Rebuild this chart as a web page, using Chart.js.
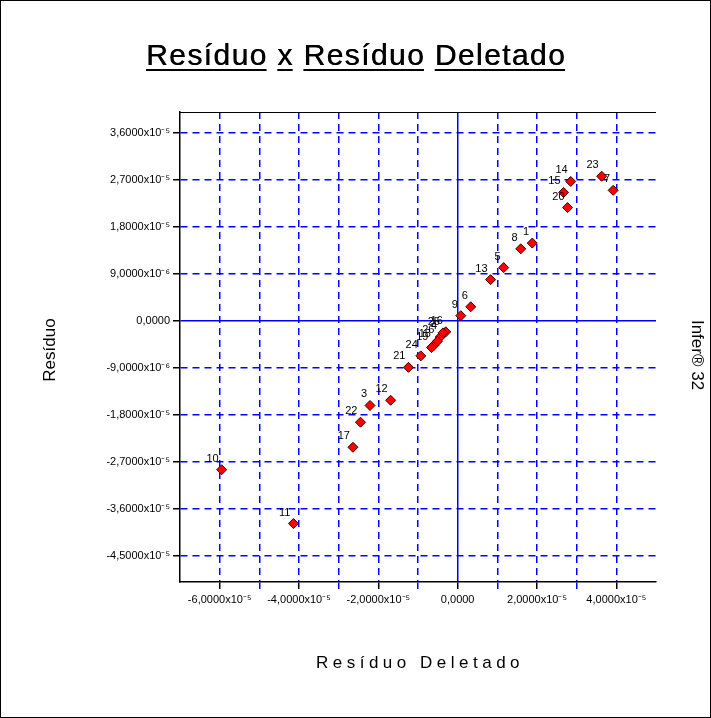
<!DOCTYPE html>
<html>
<head>
<meta charset="utf-8">
<script src="https://cdn.jsdelivr.net/npm/chart.js@4"></script>
<style>
html, body { margin: 0; padding: 0; background: #fff; }
canvas { display: block; }
</style>
</head>
<body>
<canvas id="chart" width="711" height="718"></canvas>
<script>
// dados
const pointLabels = ['1', '3', '4', '5', '6', '7', '8', '9', '10', '11', '12', '13', '14',
    '15', '16', '17', '18', '19', '20', '21', '22', '23', '24', '25', '26'];
const residuoDeletado = [1.88e-5, -2.21e-5, -0.44e-5, 1.16e-5, 0.33e-5, 3.92e-5, 1.59e-5, 0.08e-5,
    -5.95e-5, -4.14e-5, -1.69e-5, 0.83e-5, 2.85e-5, 2.67e-5, -0.30e-5, -2.64e-5, -0.60e-5,
    -0.66e-5, 2.77e-5, -1.24e-5, -2.45e-5, 3.63e-5, -0.93e-5, -0.37e-5, -0.51e-5];
const residuo = [1.49e-5, -1.62e-5, -3.1e-6, 1.02e-5, 2.7e-6, 2.50e-5, 1.38e-5, 1.0e-6,
    -2.85e-5, -3.88e-5, -1.52e-5, 7.9e-6, 2.67e-5, 2.46e-5, -2.1e-6, -2.42e-5, -4.7e-6,
    -5.1e-6, 2.17e-5, -8.9e-6, -1.94e-5, 2.77e-5, -6.7e-6, -2.3e-6, -3.9e-6];

// ticks
const xTicks = [-6e-5, -5e-5, -4e-5, -3e-5, -2e-5, -1e-5, 0, 1e-5, 2e-5, 3e-5, 4e-5];
const xTickLabels = ['-6,0000x10⁻⁵', '', '-4,0000x10⁻⁵', '', '-2,0000x10⁻⁵', '',
    '0,0000', '', '2,0000x10⁻⁵', '', '4,0000x10⁻⁵'];
const yTicks = [-4.5e-5, -3.6e-5, -2.7e-5, -1.8e-5, -9e-6, 0, 9e-6, 1.8e-5, 2.7e-5, 3.6e-5];
const yTickLabels = ['-4,5000x10⁻⁵', '-3,6000x10⁻⁵', '-2,7000x10⁻⁵', '-1,8000x10⁻⁵',
    '-9,0000x10⁻⁶', '0,0000', '9,0000x10⁻⁶', '1,8000x10⁻⁵', '2,7000x10⁻⁵', '3,6000x10⁻⁵'];

const FONT = '"Liberation Sans", Arial, sans-serif';
const BLUE = '#0000ff';

const points = residuoDeletado.map((x, i) => ({ x: x, y: residuo[i] }));

// textos, moldura e rótulos dos pontos
const textPlugin = {
    id: 'textos',
    beforeDraw(chart) {
        const ctx = chart.ctx;
        ctx.save();
        ctx.fillStyle = '#fff';
        ctx.fillRect(0, 0, chart.width, chart.height);
        ctx.restore();
    },
    afterDraw(chart) {
        const ctx = chart.ctx;
        const area = chart.chartArea;
        ctx.save();

        // moldura
        ctx.strokeStyle = '#000';
        ctx.lineWidth = 1;
        ctx.strokeRect(0.5, 0.5, chart.width - 1, chart.height - 1);

        // linha de cima da área
        ctx.beginPath();
        ctx.moveTo(area.left, area.top + 0.5);
        ctx.lineTo(area.right, area.top + 0.5);
        ctx.stroke();

        // título sublinhado palavra a palavra
        ctx.fillStyle = '#000';
        ctx.font = '30px ' + FONT;
        ctx.textBaseline = 'alphabetic';
        ctx.textAlign = 'left';
        ctx.letterSpacing = '1.4px';
        const words = 'Resíduo x Resíduo Deletado'.split(' ');
        const spaceW = ctx.measureText(' ').width;
        const total = ctx.measureText(words.join(' ')).width;
        let tx = 356 - total / 2;
        words.forEach(w => {
            const ww = ctx.measureText(w).width;
            ctx.fillText(w, tx, 65);
            ctx.fillText(w, tx + 0.5, 65);
            ctx.fillRect(tx, 69, ww - 1, 2);
            tx += ww + spaceW;
        });

        // títulos dos eixos
        ctx.font = '17px ' + FONT;
        ctx.textAlign = 'center';
        ctx.textBaseline = 'middle';
        ctx.letterSpacing = '4.5px';
        ctx.fillText('Resíduo Deletado', (area.left + area.right) / 2 + 2, 663);
        ctx.letterSpacing = '0px';

        ctx.save();
        ctx.translate(50, (area.top + area.bottom) / 2 + 3);
        ctx.rotate(-Math.PI / 2);
        ctx.fillText('Resíduo', 0, 0);
        ctx.restore();

        ctx.save();
        ctx.translate(697, 355);
        ctx.rotate(Math.PI / 2);
        ctx.fillText('Infer® 32', 0, 0);
        ctx.restore();

        // rótulos dos pontos
        ctx.font = '11px ' + FONT;
        ctx.textAlign = 'right';
        ctx.textBaseline = 'alphabetic';
        const meta = chart.getDatasetMeta(0);
        meta.data.forEach((pt, i) => {
            ctx.fillText(pointLabels[i], pt.x - 3, pt.y - 8);
        });
        ctx.restore();
    }
};

new Chart(document.getElementById('chart'), {
    type: 'scatter',
    data: {
        datasets: [{
            data: points,
            pointStyle: 'rectRot',
            pointRadius: 5,
            pointHoverRadius: 5,
            backgroundColor: '#ff0000',
            borderColor: '#3a0000',
            borderWidth: 1
        }]
    },
    options: {
        responsive: false,
        animation: false,
        events: [],
        layout: { padding: { top: 112, right: 55, bottom: 96, left: 0 } },
        plugins: {
            legend: { display: false },
            tooltip: { enabled: false }
        },
        scales: {
            x: {
                type: 'linear',
                min: -7e-5,
                max: 5e-5,
                afterBuildTicks: s => { s.ticks = xTicks.map(v => ({ value: v })); },
                afterFit: s => { s.height = 40; },
                ticks: {
                    autoSkip: false,
                    maxRotation: 0,
                    padding: 4,
                    color: '#000',
                    font: { family: FONT, size: 11 },
                    callback: (v, i) => xTickLabels[i]
                },
                grid: {
                    color: BLUE,
                    lineWidth: 1.5,
                    tickLength: 7,
                    tickWidth: 1.5,
                    tickColor: c => (c.tick && xTickLabels[c.index]) ? '#000' : BLUE
                },
                border: {
                    color: '#000',
                    width: 1.5,
                    dash: c => (c.tick && c.tick.value === 0) ? [] : [7, 5]
                }
            },
            y: {
                type: 'linear',
                min: -5e-5,
                max: 4e-5,
                afterBuildTicks: s => { s.ticks = yTicks.map(v => ({ value: v })); },
                afterFit: s => { s.width = 180; },
                ticks: {
                    autoSkip: false,
                    padding: 3,
                    color: '#000',
                    font: { family: FONT, size: 11 },
                    callback: (v, i) => yTickLabels[i]
                },
                grid: {
                    color: BLUE,
                    lineWidth: 1.5,
                    tickLength: 7,
                    tickWidth: 1.5,
                    tickColor: '#000'
                },
                border: {
                    color: '#000',
                    width: 1.5,
                    dash: c => (c.tick && c.tick.value === 0) ? [] : [7, 5]
                }
            }
        }
    },
    plugins: [textPlugin]
});
</script>
</body>
</html>
